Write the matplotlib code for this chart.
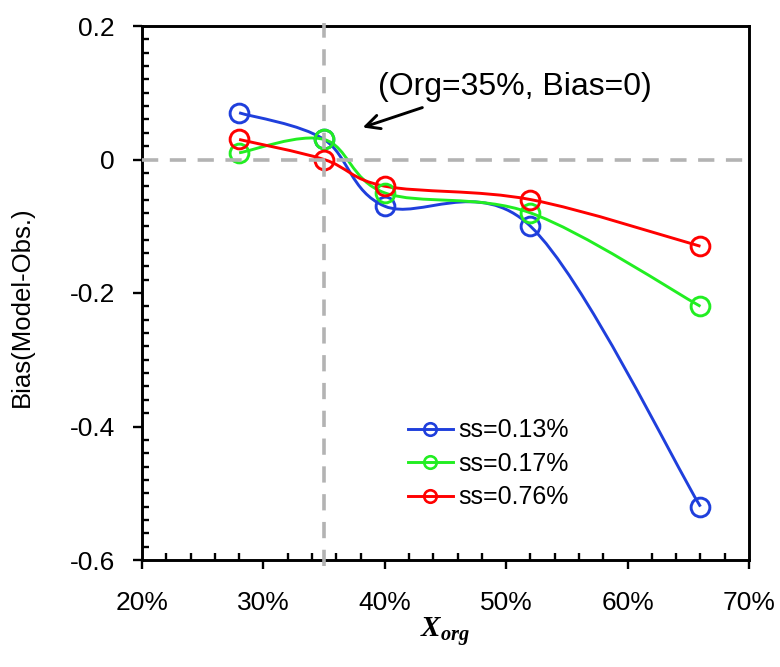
import numpy as np
import matplotlib
matplotlib.use("Agg")
import matplotlib.pyplot as plt
from matplotlib.path import Path
from matplotlib.patches import PathPatch
from matplotlib.lines import Line2D
from matplotlib.ticker import MultipleLocator, FuncFormatter

plt.rcParams['font.family'] = ['Liberation Sans', 'DejaVu Sans']
plt.rcParams['mathtext.fontset'] = 'custom'
plt.rcParams['mathtext.it'] = 'Liberation Serif:italic:bold'
plt.rcParams['mathtext.rm'] = 'Liberation Serif:bold'

# ---- data ----
x_org = [28, 35, 40, 52, 66]  # percent
bias_013 = [0.07, 0.03, -0.07, -0.10, -0.52]
bias_017 = [0.01, 0.03, -0.05, -0.08, -0.22]
bias_076 = [0.03, 0.00, -0.04, -0.06, -0.13]
series_labels = ['ss=0.13%', 'ss=0.17%', 'ss=0.76%']
series_colors = ['#1f3fdc', '#22ee22', '#ff0000']
annot_text = '(Org=35%, Bias=0)'


def smooth_path(x, y):
    pts = np.column_stack([x, y]).astype(float)
    n = len(pts)
    verts = [pts[0]]
    codes = [Path.MOVETO]
    for i in range(n - 1):
        p0 = pts[i - 1] if i > 0 else pts[i]
        p1 = pts[i]
        p2 = pts[i + 1]
        p3 = pts[i + 2] if i + 2 < n else pts[i + 1]
        c1 = p1 + (p2 - p0) / 6.0
        c2 = p2 - (p3 - p1) / 6.0
        verts += [c1, c2, p2]
        codes += [Path.CURVE4] * 3
    return Path(verts, codes)


fig = plt.figure(figsize=(7.8, 6.67), dpi=100)
ax = fig.add_axes([142 / 780, 107 / 667, 607 / 780, 534 / 667])

lw = 2.1
handles = []
for ys, c, lab in zip([bias_013, bias_017, bias_076], series_colors, series_labels):
    patch = PathPatch(smooth_path(x_org, ys), facecolor='none', edgecolor=c, lw=lw, zorder=3)
    ax.add_patch(patch)
    ax.plot(x_org, ys, linestyle='none', marker='o', ms=13.5, mfc='none', mec=c, mew=2.1, zorder=4)
    handles.append(Line2D([], [], color=c, lw=lw, marker='o', ms=9, mfc='none', mec=c, mew=1.9))

# reference dashed lines
ax.axhline(0, color='#b3b3b3', lw=2.6, linestyle=(0, (4.5, 3.2)), zorder=5)
ax.axvline(35, color='#b3b3b3', lw=2.6, linestyle=(0, (4.5, 3.2)), zorder=5, clip_on=False,
           ymin=-0.012, ymax=1.005)

ax.set_xlim(20, 70)
ax.set_ylim(-0.6, 0.2)

ax.xaxis.set_major_locator(MultipleLocator(10))
ax.xaxis.set_minor_locator(MultipleLocator(2))
ax.yaxis.set_major_locator(MultipleLocator(0.2))
ax.yaxis.set_minor_locator(MultipleLocator(0.02))
ax.xaxis.set_major_formatter(FuncFormatter(lambda v, p: f"{v:.0f}%"))
ax.yaxis.set_major_formatter(FuncFormatter(lambda v, p: "0" if abs(v) < 1e-9 else f"{v:.1f}"))

ax.tick_params(which='major', direction='out', length=6.5, width=1.7, labelsize=19)
ax.tick_params(which='minor', direction='in', length=5, width=1.7)
ax.tick_params(axis='x', which='major', pad=16)
ax.tick_params(axis='y', which='major', pad=13)
for s in ax.spines.values():
    s.set_linewidth(2.1)

ax.set_ylabel('Bias(Model-Obs.)', fontsize=18.5)
ax.yaxis.set_label_coords(-0.178, 0.474)
fig.text(445 / 780, 1 - 631 / 667, r'$X_{org}$', fontsize=21, ha='center', va='center')

ax.annotate('', xy=(37.96, 0.0467), xytext=(43.31, 0.0791),
            arrowprops=dict(arrowstyle='->', color='black', lw=2.1, mutation_scale=25))
ax.text(50.72, 0.108, annot_text, fontsize=23, ha='center', va='center')

leg = ax.legend(handles, series_labels, loc='upper left', bbox_to_anchor=(0.438, 0.265),
                frameon=False, fontsize=18, handlelength=1.8, handletextpad=0.2,
                labelspacing=0.38, borderpad=0, borderaxespad=0)

fig.savefig('out.png', dpi=100)
